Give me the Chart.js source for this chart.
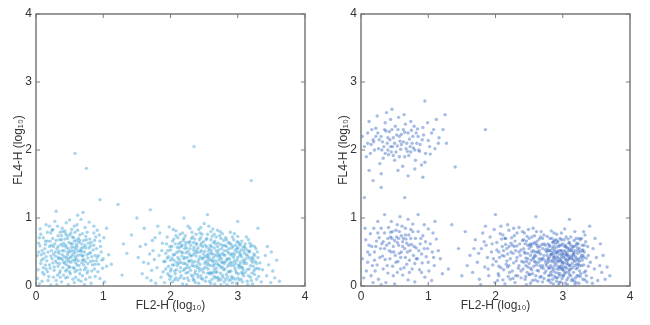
<!DOCTYPE html>
<html>
<head>
<meta charset="utf-8">
<script src="https://cdn.jsdelivr.net/npm/chart.js@4"></script>
<style>
  body { margin: 0; background: #fff; }
  .panel { position: absolute; top: 0; width: 325px; height: 325px; }
</style>
</head>
<body>
<div class="panel" style="left:0"><canvas id="leftChart" width="325" height="325"></canvas></div>
<div class="panel" style="left:325px"><canvas id="rightChart" width="325" height="325"></canvas></div>
<script>
const axisTicks = [0, 1, 2, 3, 4];
const xTitle = 'FL2-H (log₁₀)';
const yTitle = 'FL4-H (log₁₀)';

// left panel: [FL2, FL4] in log10 units
const leftNegative = [
  [0.05,0.03],[0.18,0.08],[0.31,0.02],[0.44,0.12],[0.57,0.05],[0.69,0.15],[0.82,0.04],[0.95,0.11],[0.12,0.17],[0.26,0.13],[0.38,0.06],[0.51,0.18],[0.63,0.09],[0.76,0.19],[0.88,0.14],[0.02,0.11],[0.22,0.01],[0.48,0.02],[0.72,0.02],[0.35,0.19],[0.59,0.13],[0.09,0.07],[1.02,0.06],[0.41,0.16],[0.67,0.07],
  [0.03,0.24],[0.14,0.31],[0.21,0.26],[0.29,0.37],[0.36,0.22],[0.43,0.33],[0.49,0.28],[0.55,0.38],[0.61,0.23],[0.68,0.34],[0.74,0.27],[0.81,0.36],[0.87,0.25],[0.93,0.32],[1.05,0.29],[0.08,0.38],[0.17,0.21],[0.25,0.34],[0.33,0.29],[0.39,0.39],[0.46,0.24],[0.52,0.35],[0.58,0.21],[0.64,0.3],[0.71,0.39],[0.77,0.22],[0.84,0.31],[0.98,0.38],[0.11,0.27],[0.45,0.37],[0.57,0.26],[0.66,0.24],[0.35,0.33],[0.5,0.21],[0.27,0.23],
  [0.02,0.45],[0.09,0.52],[0.15,0.43],[0.2,0.58],[0.26,0.47],[0.31,0.55],[0.37,0.41],[0.42,0.52],[0.47,0.46],[0.53,0.57],[0.58,0.43],[0.63,0.51],[0.69,0.44],[0.74,0.56],[0.79,0.48],[0.85,0.53],[0.91,0.42],[0.97,0.5],[1.08,0.46],[0.06,0.59],[0.12,0.48],[0.23,0.52],[0.34,0.48],[0.4,0.59],[0.45,0.42],[0.5,0.5],[0.55,0.47],[0.61,0.58],[0.66,0.46],[0.72,0.5],[0.81,0.59],[0.88,0.45],[0.29,0.44],[0.18,0.5],[0.39,0.46],[0.6,0.54],[0.48,0.55],[0.77,0.41],[0.33,0.58],[0.56,0.52],
  [0.04,0.63],[0.11,0.71],[0.17,0.66],[0.22,0.78],[0.28,0.62],[0.33,0.74],[0.38,0.68],[0.44,0.77],[0.49,0.64],[0.54,0.72],[0.6,0.61],[0.65,0.75],[0.71,0.67],[0.76,0.79],[0.82,0.64],[0.89,0.72],[0.95,0.66],[0.07,0.76],[0.25,0.7],[0.36,0.79],[0.41,0.63],[0.47,0.7],[0.52,0.78],[0.57,0.66],[0.63,0.7],[0.68,0.62],[0.74,0.73],[0.8,0.69],[1.01,0.71],[0.14,0.61],[0.3,0.67],[0.46,0.74],[0.58,0.79],[0.69,0.77],[0.86,0.78],
  [0.06,0.84],[0.15,0.9],[0.24,0.82],[0.32,0.88],[0.39,0.85],[0.45,0.93],[0.53,0.83],[0.61,0.9],[0.67,0.98],[0.73,0.86],[0.79,0.94],[0.86,0.88],[0.62,1.04],[0.5,0.97],[0.28,0.95],[0.91,0.82],[0.43,0.81],[0.7,1.08],[0.2,0.88],[0.57,0.88],
  [0.07,0.33],[0.13,0.55],[0.19,0.14],[0.24,0.4],[0.3,0.08],[0.34,0.51],[0.4,0.27],[0.43,0.69],[0.47,0.13],[0.51,0.42],[0.54,0.62],[0.59,0.34],[0.62,0.45],[0.65,0.18],[0.7,0.57],[0.73,0.36],[0.78,0.63],[0.83,0.43],[0.87,0.67],[0.92,0.21],[0.96,0.58],[1.0,0.4],[0.04,0.5],[0.1,0.2],[0.16,0.37],[0.21,0.66],[0.27,0.28],[0.32,0.16],[0.37,0.61],[0.42,0.43],[0.46,0.31],[0.5,0.75],[0.55,0.27],[0.58,0.49],[0.63,0.37],[0.67,0.55],[0.72,0.24],[0.76,0.46],[0.8,0.13],[0.85,0.37],[0.9,0.55],[0.94,0.75],
  [0.05,0.71],[0.11,0.4],[0.17,0.79],[0.22,0.44],[0.26,0.58],[0.31,0.34],[0.35,0.68],[0.39,0.52],[0.44,0.22],[0.48,0.4],[0.52,0.52],[0.56,0.71],[0.6,0.4],[0.64,0.64],[0.68,0.51],[0.71,0.31],[0.75,0.68],[0.79,0.56],[0.83,0.22],[0.88,0.32],[0.93,0.45],[0.99,0.26],[0.08,0.46],[0.14,0.66],[0.2,0.31],[0.25,0.83],[0.29,0.5],[0.33,0.42],[0.38,0.74],[0.41,0.35],[0.45,0.57],[0.49,0.36],[0.53,0.44],[0.57,0.57],[0.61,0.31],[0.65,0.67],[0.69,0.38],[0.73,0.6],[0.77,0.33],[0.81,0.49],[0.86,0.6],[0.9,0.37],
  [0.15,0.25],[0.36,0.13],[0.55,0.1],[0.74,0.1],[0.62,0.82],[0.4,0.8],[0.23,0.6],[0.52,0.62],[0.47,0.5],[0.58,0.38],[0.66,0.52],[0.34,0.4],[0.44,0.6],[0.7,0.45],[0.6,0.67],[0.5,0.28]
];

const leftPositive = [
  [1.52,0.42],[1.58,0.18],[1.63,0.61],[1.67,0.33],[1.71,0.08],[1.74,0.52],[1.77,0.71],[1.8,0.27],[1.83,0.45],[1.86,0.13],[1.88,0.63],[1.9,0.36],[1.61,0.85],[1.69,0.47],[1.78,0.04],[1.84,0.78],[1.55,0.58],[1.72,0.23],[1.87,0.52],[1.65,0.12],[1.81,0.88],[1.76,0.39],[1.89,0.21],[1.6,0.35],[1.73,0.67],
  [1.91,0.05],[1.93,0.48],[1.95,0.72],[1.97,0.29],[1.99,0.58],[2.01,0.14],[2.02,0.41],[2.04,0.83],[2.06,0.22],[2.07,0.62],[2.09,0.35],[2.11,0.09],[2.12,0.51],[2.14,0.76],[2.15,0.27],[2.17,0.44],[2.18,0.03],[2.19,0.67],[1.92,0.36],[1.96,0.18],[1.98,0.87],[2.0,0.53],[2.03,0.31],[2.05,0.69],[2.08,0.12],[2.1,0.57],[2.13,0.39],[2.16,0.15],[2.19,0.33],[1.94,0.62],[2.01,0.25],[2.06,0.46],[2.11,0.71],[2.16,0.58],[2.03,0.06],[2.08,0.81],[2.14,0.21],[1.97,0.43],[2.12,0.33],[2.18,0.49],[2.05,0.38],[1.99,0.1],[2.09,0.24],[2.15,0.64],[2.2,0.11],
  [2.21,0.42],[2.22,0.74],[2.23,0.19],[2.24,0.56],[2.25,0.31],[2.26,0.88],[2.27,0.08],[2.28,0.47],[2.29,0.65],[2.3,0.23],[2.31,0.38],[2.32,0.79],[2.33,0.14],[2.34,0.53],[2.35,0.29],[2.36,0.69],[2.37,0.05],[2.38,0.44],[2.39,0.61],[2.4,0.17],[2.41,0.35],[2.42,0.83],[2.43,0.26],[2.44,0.5],[2.45,0.71],[2.46,0.11],[2.47,0.4],[2.48,0.58],[2.49,0.2],[2.5,0.92],[2.22,0.33],[2.24,0.02],[2.26,0.51],[2.28,0.27],[2.3,0.6],[2.32,0.45],[2.34,0.1],[2.36,0.36],[2.38,0.76],[2.4,0.49],[2.42,0.04],[2.44,0.32],[2.46,0.63],[2.48,0.41],[2.23,0.64],[2.27,0.37],[2.31,0.16],[2.35,0.57],[2.39,0.3],[2.43,0.68],[2.47,0.24],[2.25,0.12],[2.29,0.85],[2.33,0.34],[2.37,0.22],[2.41,0.56],[2.45,0.15],[2.49,0.47],[2.21,0.25],[2.44,0.78],
  [2.51,0.33],[2.52,0.6],[2.53,0.13],[2.54,0.45],[2.55,0.76],[2.56,0.25],[2.57,0.52],[2.58,0.07],[2.59,0.39],[2.6,0.68],[2.61,0.18],[2.62,0.47],[2.63,0.84],[2.64,0.29],[2.65,0.56],[2.66,0.03],[2.67,0.37],[2.68,0.72],[2.69,0.21],[2.7,0.49],[2.71,0.63],[2.72,0.11],[2.73,0.42],[2.74,0.8],[2.75,0.27],[2.76,0.55],[2.77,0.16],[2.78,0.35],[2.79,0.67],[2.8,0.06],[2.51,0.51],[2.53,0.28],[2.55,0.41],[2.57,0.88],[2.59,0.2],[2.61,0.58],[2.63,0.36],[2.65,0.14],[2.67,0.62],[2.69,0.44],[2.71,0.31],[2.73,0.74],[2.75,0.09],[2.77,0.48],[2.79,0.24],[2.52,0.07],[2.54,0.7],[2.56,0.37],[2.58,0.55],[2.6,0.3],[2.62,0.1],[2.64,0.64],[2.66,0.46],[2.68,0.26],[2.7,0.82],[2.72,0.53],[2.74,0.19],[2.76,0.4],[2.78,0.59],[2.8,0.33],[2.55,0.19],[2.6,0.48],[2.65,0.32],[2.7,0.13],[2.75,0.61],[2.57,0.43],[2.62,0.73],[2.67,0.2],[2.72,0.38],[2.77,0.77],
  [2.81,0.45],[2.82,0.71],[2.83,0.17],[2.84,0.52],[2.85,0.29],[2.86,0.64],[2.87,0.08],[2.88,0.4],[2.89,0.79],[2.9,0.22],[2.91,0.56],[2.92,0.34],[2.93,0.12],[2.94,0.68],[2.95,0.46],[2.96,0.26],[2.97,0.6],[2.98,0.04],[2.99,0.38],[3.0,0.73],[3.01,0.18],[3.02,0.5],[3.03,0.31],[3.04,0.62],[3.05,0.1],[3.06,0.43],[3.07,0.27],[3.08,0.57],[3.09,0.15],[3.1,0.36],[2.82,0.36],[2.84,0.02],[2.86,0.49],[2.88,0.21],[2.9,0.61],[2.92,0.05],[2.94,0.3],[2.96,0.53],[2.98,0.19],[3.0,0.42],[3.02,0.09],[3.04,0.35],[3.06,0.66],[3.08,0.24],[3.1,0.48],[2.83,0.58],[2.87,0.32],[2.91,0.14],[2.95,0.77],[2.99,0.55],[3.03,0.45],[3.07,0.06],[2.85,0.13],[2.89,0.47],[2.93,0.58],[2.97,0.33],[3.01,0.64],[3.05,0.28],[3.09,0.52],[2.81,0.25],
  [3.11,0.2],[3.12,0.55],[3.13,0.33],[3.14,0.07],[3.15,0.44],[3.16,0.68],[3.17,0.25],[3.18,0.51],[3.19,0.13],[3.2,0.38],[3.21,0.6],[3.22,0.03],[3.23,0.29],[3.24,0.47],[3.25,0.17],[3.26,0.36],[3.27,0.55],[3.28,0.1],[3.29,0.26],[3.3,0.42],[3.13,0.72],[3.17,0.41],[3.21,0.19],[3.25,0.58],[3.31,0.14],[3.33,0.34],[3.35,0.06],[3.37,0.24],[3.15,0.02],[3.19,0.3],
  [3.41,0.45],[3.43,0.15],[3.46,0.31],[3.49,0.05],[3.52,0.22],[3.55,0.12],[3.58,0.38],[3.44,0.58],[3.62,0.07],[3.5,0.5],
  [1.93,0.25],[1.96,0.52],[2.0,0.38],[2.03,0.66],[2.06,0.09],[2.09,0.49],[2.12,0.62],[2.15,0.35],[2.18,0.78],[2.21,0.55],[2.24,0.27],[2.27,0.64],[2.3,0.44],[2.33,0.72],[2.36,0.18],[2.39,0.53],[2.42,0.39],[2.45,0.6],[2.48,0.1],[2.51,0.43],[2.54,0.57],[2.57,0.31],[2.6,0.8],[2.63,0.2],[2.66,0.66],[2.69,0.33],[2.72,0.46],[2.75,0.7],[2.78,0.13],[2.81,0.6],[2.84,0.39],[2.87,0.55],[2.9,0.3],[2.93,0.48],[2.96,0.1],[2.99,0.65],[3.02,0.27],[3.05,0.53],[3.08,0.38],[3.11,0.62],[3.14,0.24],[3.17,0.5],[3.2,0.08],[3.23,0.4],[3.26,0.25],[3.29,0.5],
  [1.95,0.41],[1.98,0.15],[2.02,0.58],[2.05,0.31],[2.08,0.74],[2.11,0.42],[2.14,0.12],[2.17,0.6],[2.2,0.4],[2.23,0.49],[2.26,0.2],[2.29,0.55],[2.32,0.3],[2.35,0.47],[2.38,0.63],[2.41,0.13],[2.44,0.43],[2.47,0.76],[2.5,0.26],[2.53,0.68],[2.56,0.47],[2.59,0.6],[2.62,0.38],[2.65,0.24],[2.68,0.52],[2.71,0.08],[2.74,0.45],[2.77,0.28],[2.8,0.52],[2.83,0.68],[2.86,0.21],[2.89,0.35],[2.92,0.72],[2.95,0.37],[2.98,0.5],[3.01,0.3],[3.04,0.47],[3.07,0.18],[3.1,0.58],[3.13,0.46],[3.16,0.15],[3.19,0.58],[3.22,0.35],[3.25,0.45],[3.28,0.33],[3.32,0.25],
  [2.0,0.22],[2.04,0.46],[2.1,0.3],[2.16,0.5],[2.22,0.6],[2.28,0.36],[2.34,0.64],[2.4,0.27],[2.46,0.52],[2.52,0.36],[2.58,0.18],[2.64,0.42],[2.7,0.58],[2.76,0.35],[2.82,0.1],[2.88,0.63],[2.94,0.42],[3.0,0.56],[3.06,0.2],[3.12,0.4],[3.18,0.63],[3.24,0.22],[2.07,0.18],[2.13,0.56],[2.19,0.23],[2.25,0.42],[2.31,0.7],[2.37,0.5],[2.43,0.22],[2.49,0.65],[2.55,0.33],[2.61,0.52],[2.67,0.12],[2.73,0.3],[2.79,0.46],[2.85,0.4],[2.91,0.45],[2.97,0.22],[3.03,0.6],[3.09,0.33],[3.15,0.52],[3.21,0.42],[2.35,0.08],[2.65,0.76],[2.9,0.1],[2.45,0.86],[2.2,0.7],[3.0,0.12],[2.6,0.04],[2.75,0.02]
];

const leftScattered = [
  [0.58,1.95],[0.75,1.73],[1.22,1.2],[0.95,1.27],[1.7,1.12],[2.55,1.05],[3.0,0.95],[1.35,0.48],[1.28,0.16],[1.42,0.75],[1.12,0.32],[1.5,1.0],[2.2,1.0],[3.3,0.85],[0.3,1.1],[3.2,1.55],[2.35,2.05],[1.05,0.85],[1.3,0.62]
];

// right panel
const rightUpper = [
  [0.05,2.05],[0.1,2.25],[0.14,1.95],[0.18,2.15],[0.22,2.32],[0.26,2.02],[0.3,2.2],[0.33,1.88],[0.36,2.4],[0.39,2.1],[0.42,2.27],[0.45,1.97],[0.48,2.18],[0.51,2.35],[0.54,2.06],[0.57,1.9],[0.6,2.23],[0.63,2.12],[0.66,2.38],[0.69,1.98],[0.72,2.16],[0.75,2.29],[0.78,2.03],[0.81,1.85],[0.85,2.2],[0.88,2.08],[0.92,2.33],[0.96,1.95],[1.0,2.14],[1.05,2.25],[1.1,2.02],[1.16,2.18],[1.22,2.3],[1.27,2.1],[0.08,1.9],[0.12,2.42],[0.2,2.0],[0.25,2.25],[0.28,1.8],[0.32,2.12],[0.37,2.28],[0.41,1.93],[0.44,2.45],[0.47,2.05],[0.5,1.85],[0.53,2.22],[0.56,2.48],[0.59,2.01],[0.62,1.76],[0.65,2.26],[0.68,2.1],[0.71,1.92],[0.74,2.42],[0.77,2.2],[0.8,1.72],[0.84,2.31],[0.87,1.98],[0.91,2.15],[0.95,1.82],[0.99,2.4],[1.03,1.94],[1.08,2.3],[0.16,2.3],[0.34,2.05],[0.43,2.15],[0.52,1.97],[0.58,2.13],[0.67,2.02],[0.73,2.05],[0.83,2.1],[0.38,2.55],[0.46,2.6],[0.24,2.5],[0.7,1.62],[0.55,1.7],[0.3,1.65],[0.9,1.78],[1.12,2.45],[0.02,2.2],[0.64,2.52],[0.4,2.0],[0.79,2.35],[0.19,2.12],
  [0.15,2.08],[0.27,2.15],[0.35,2.3],[0.4,2.18],[0.46,2.3],[0.5,2.1],[0.55,2.3],[0.6,2.08],[0.63,2.3],[0.7,2.25],[0.76,2.1],[0.82,2.25],[0.86,2.0],[0.93,2.22],[1.02,2.05],[0.22,2.2],[0.31,2.0],[0.48,1.92],[0.65,1.9],[0.8,2.0],[0.57,2.2],[0.44,2.05],[0.36,1.95],[0.74,1.97],[1.15,2.1],[0.1,2.1]
];

const rightLowerLeft = [
  [0.04,0.12],[0.1,0.35],[0.16,0.58],[0.21,0.22],[0.27,0.71],[0.32,0.44],[0.37,0.05],[0.42,0.63],[0.47,0.29],[0.52,0.82],[0.57,0.48],[0.62,0.16],[0.67,0.69],[0.72,0.38],[0.77,0.91],[0.82,0.56],[0.87,0.24],[0.92,0.74],[0.97,0.43],[1.03,0.62],[1.09,0.3],[1.15,0.52],[1.21,0.18],[0.07,0.68],[0.13,0.46],[0.19,0.85],[0.24,0.31],[0.29,0.55],[0.35,0.78],[0.4,0.19],[0.45,0.5],[0.5,0.67],[0.55,0.36],[0.6,0.74],[0.65,0.55],[0.7,0.09],[0.75,0.61],[0.8,0.33],[0.85,0.8],[0.9,0.47],[0.95,0.13],[1.0,0.84],[1.06,0.5],[1.12,0.69],[0.02,0.4],[0.08,0.22],[0.14,0.77],[0.2,0.5],[0.26,0.1],[0.31,0.62],[0.36,0.39],[0.41,0.86],[0.46,0.7],[0.51,0.45],[0.56,0.6],[0.61,0.88],[0.66,0.42],[0.71,0.75],[0.76,0.25],[0.81,0.7],[0.86,0.52],[0.91,0.34],[0.96,0.65],[1.01,0.22],[1.07,0.78],[1.18,0.4],[0.45,0.95],[0.58,1.02],[0.7,0.98],[0.35,1.05],[0.85,1.05],[0.25,0.95],[0.62,0.58],[0.53,0.72],[0.48,0.58],[0.68,0.63],[0.73,0.52],[0.57,0.8],[0.44,0.79],[0.38,0.6],[0.33,0.25],[0.78,0.45],[0.88,0.62],[0.64,0.27],[0.54,0.2],[0.18,0.05],[0.5,0.03],[0.8,0.06],[1.05,0.08],[0.3,0.02],[0.12,0.6],[0.99,0.55],[0.74,0.83],[0.59,0.42],[0.43,0.4],[0.66,0.85],[0.94,0.9],[0.23,0.66],[0.06,0.85],[1.1,0.95],
  [0.1,0.5],[0.17,0.3],[0.22,0.58],[0.28,0.42],[0.33,0.65],[0.39,0.3],[0.44,0.72],[0.49,0.5],[0.54,0.64],[0.59,0.25],[0.63,0.7],[0.69,0.5],[0.74,0.7],[0.79,0.58],[0.84,0.4],[0.89,0.7],[0.94,0.55],[1.0,0.35],[0.15,0.15],[0.25,0.78],[0.42,0.52],[0.47,0.8],[0.52,0.35],[0.56,0.7],[0.6,0.5],[0.66,0.75],[0.71,0.6],[0.77,0.8],[0.82,0.4],[0.35,0.55],[0.4,0.7],[0.62,0.65],[0.54,0.9],[0.68,0.32],[0.9,0.2],[0.2,0.38],[0.3,0.85],[0.48,0.15],[0.72,0.2],[1.08,0.42]
];

const rightLowerRight = [
  [1.62,0.45],[1.66,0.2],[1.7,0.68],[1.73,0.35],[1.76,0.1],[1.79,0.55],[1.81,0.78],[1.84,0.28],[1.86,0.6],[1.88,0.42],[1.9,0.15],[1.92,0.72],[1.94,0.5],[1.96,0.31],[1.98,0.83],[1.99,0.05],[1.75,0.48],[1.83,0.65],[1.89,0.25],[1.95,0.62],[1.68,0.55],[1.85,0.88],[1.97,0.4],[1.78,0.02],[1.58,0.3],
  [2.01,0.36],[2.02,0.64],[2.04,0.18],[2.05,0.5],[2.07,0.77],[2.08,0.27],[2.1,0.58],[2.11,0.09],[2.13,0.44],[2.14,0.7],[2.16,0.32],[2.17,0.55],[2.19,0.14],[2.2,0.82],[2.22,0.4],[2.23,0.63],[2.25,0.22],[2.26,0.48],[2.28,0.74],[2.29,0.05],[2.31,0.37],[2.32,0.59],[2.34,0.26],[2.35,0.86],[2.37,0.45],[2.38,0.12],[2.4,0.67],[2.03,0.08],[2.06,0.42],[2.09,0.69],[2.12,0.24],[2.15,0.61],[2.18,0.47],[2.21,0.2],[2.24,0.71],[2.27,0.34],[2.3,0.52],[2.33,0.15],[2.36,0.62],[2.39,0.36],[2.02,0.53],[2.08,0.88],[2.14,0.03],[2.2,0.58],[2.26,0.11],[2.32,0.78],[2.38,0.53],[2.05,0.29],[2.11,0.75],[2.17,0.37],[2.23,0.5],[2.29,0.66],[2.35,0.3],[2.18,0.9],[2.27,0.85],
  [2.41,0.25],[2.42,0.55],[2.43,0.78],[2.44,0.1],[2.45,0.41],[2.46,0.66],[2.47,0.2],[2.48,0.48],[2.49,0.83],[2.5,0.33],[2.51,0.6],[2.52,0.04],[2.53,0.38],[2.54,0.72],[2.55,0.18],[2.56,0.52],[2.57,0.29],[2.58,0.64],[2.59,0.09],[2.6,0.44],[2.61,0.8],[2.62,0.23],[2.63,0.57],[2.64,0.35],[2.65,0.69],[2.66,0.13],[2.67,0.47],[2.68,0.27],[2.69,0.61],[2.7,0.06],[2.71,0.4],[2.72,0.75],[2.73,0.19],[2.74,0.53],[2.42,0.35],[2.44,0.62],[2.46,0.02],[2.48,0.28],[2.5,0.7],[2.52,0.45],[2.54,0.24],[2.56,0.85],[2.58,0.36],[2.6,0.15],[2.62,0.66],[2.64,0.49],[2.66,0.3],[2.68,0.8],[2.7,0.55],[2.72,0.11],[2.74,0.37],[2.43,0.5],[2.47,0.73],[2.51,0.17],[2.55,0.62],[2.59,0.5],[2.63,0.07],[2.67,0.72],[2.71,0.26],[2.45,0.14],[2.53,0.58],[2.57,0.42],[2.61,0.31],[2.65,0.52],[2.69,0.4],
  [2.75,0.22],[2.76,0.5],[2.77,0.73],[2.78,0.08],[2.79,0.38],[2.8,0.6],[2.81,0.16],[2.82,0.46],[2.83,0.81],[2.84,0.27],[2.85,0.55],[2.86,0.03],[2.87,0.35],[2.88,0.67],[2.89,0.2],[2.9,0.48],[2.91,0.76],[2.92,0.12],[2.93,0.41],[2.94,0.58],[2.95,0.25],[2.96,0.7],[2.97,0.06],[2.98,0.44],[2.99,0.32],[3.0,0.62],[3.01,0.15],[3.02,0.52],[3.03,0.84],[3.04,0.28],[3.05,0.47],[3.06,0.09],[3.07,0.37],[3.08,0.69],[3.09,0.21],[3.1,0.55],[2.76,0.3],[2.78,0.62],[2.8,0.42],[2.82,0.05],[2.84,0.7],[2.86,0.5],[2.88,0.14],[2.9,0.33],[2.92,0.64],[2.94,0.02],[2.96,0.38],[2.98,0.78],[3.0,0.24],[3.02,0.34],[3.04,0.6],[3.06,0.45],[3.08,0.12],[3.1,0.3],[2.77,0.45],[2.81,0.58],[2.85,0.22],[2.89,0.62],[2.93,0.29],[2.97,0.52],[3.01,0.42],[3.05,0.72],[3.09,0.4],[2.79,0.15],[2.83,0.36],[2.87,0.78],[2.91,0.07],[2.95,0.47],[2.99,0.11],[3.03,0.18],[3.07,0.56],[2.8,0.26],[2.84,0.48],[2.88,0.42],[2.92,0.5],[2.96,0.18],[3.0,0.48],[3.04,0.04],[3.08,0.32],[2.78,0.52],[2.86,0.65],[2.94,0.36],[3.02,0.68],[3.1,0.17],[2.82,0.3],[2.9,0.57],[2.98,0.6],[3.06,0.26],[2.85,0.1],[2.97,0.28],
  [3.11,0.44],[3.12,0.72],[3.13,0.08],[3.14,0.33],[3.15,0.58],[3.16,0.2],[3.17,0.48],[3.18,0.8],[3.19,0.12],[3.2,0.4],[3.21,0.63],[3.22,0.27],[3.23,0.52],[3.24,0.04],[3.25,0.36],[3.26,0.68],[3.27,0.18],[3.28,0.45],[3.29,0.6],[3.3,0.1],[3.31,0.31],[3.32,0.5],[3.33,0.75],[3.34,0.22],[3.35,0.41],[3.36,0.06],[3.37,0.58],[3.38,0.29],[3.12,0.25],[3.14,0.55],[3.16,0.38],[3.18,0.02],[3.2,0.6],[3.22,0.48],[3.24,0.7],[3.26,0.14],[3.28,0.3],[3.3,0.53],[3.32,0.2],[3.34,0.65],[3.13,0.42],[3.17,0.67],[3.21,0.15],[3.25,0.55],[3.29,0.38],[3.33,0.09],[3.15,0.1],[3.23,0.32],[3.31,0.8],[3.19,0.52],
  [3.41,0.35],[3.43,0.12],[3.45,0.55],[3.47,0.25],[3.5,0.42],[3.52,0.08],[3.55,0.3],[3.58,0.2],[3.6,0.45],[3.63,0.1],[3.66,0.28],[3.7,0.15],[3.48,0.7],[3.44,0.04],[3.56,0.62],
  [2.05,0.15],[2.1,0.45],[2.15,0.7],[2.2,0.3],[2.25,0.6],[2.3,0.15],[2.35,0.5],[2.4,0.8],[2.45,0.3],[2.5,0.55],[2.55,0.08],[2.6,0.62],[2.65,0.4],[2.7,0.7],[2.75,0.33],[2.8,0.52],[2.85,0.38],[2.9,0.68],[2.95,0.15],[3.0,0.35],[3.05,0.57],[3.1,0.24],[3.15,0.46],[3.2,0.7],[3.25,0.3],[3.3,0.45],[3.35,0.15],
  [2.12,0.52],[2.22,0.1],[2.32,0.42],[2.42,0.68],[2.52,0.26],[2.62,0.5],[2.72,0.62],[2.82,0.2],[2.92,0.37],[3.02,0.45],[3.12,0.6],[3.22,0.38],[3.32,0.6],[2.18,0.28],[2.28,0.58],[2.38,0.22],[2.48,0.6],[2.58,0.45],[2.68,0.14],[2.78,0.4],[2.88,0.53],[2.98,0.68],[3.08,0.44],[3.18,0.3],[3.28,0.7],[3.38,0.45],
  [2.77,0.55],[2.79,0.27],[2.81,0.7],[2.83,0.46],[2.85,0.64],[2.87,0.25],[2.89,0.39],[2.91,0.5],[2.93,0.19],[2.95,0.6],[2.97,0.4],[2.99,0.47],[3.01,0.28],[3.03,0.58],[3.05,0.38],[3.07,0.47],[3.09,0.63],[3.11,0.3],[3.13,0.52],[3.15,0.27],[3.17,0.58],[3.19,0.43],[3.21,0.32],[3.23,0.62],[3.25,0.22],[3.27,0.42],[3.29,0.52],[3.31,0.42],
  [2.78,0.35],[2.8,0.09],[2.82,0.52],[2.84,0.16],[2.86,0.42],[2.88,0.3],[2.9,0.12],[2.92,0.43],[2.94,0.52],[2.96,0.28],[2.98,0.36],[3.0,0.15],[3.02,0.22],[3.04,0.5],[3.06,0.33],[3.08,0.52],[3.1,0.4],[3.12,0.15],[3.14,0.4],[3.16,0.5],[3.18,0.36],[3.2,0.25],[3.22,0.56],[3.24,0.4],[3.26,0.5],[2.87,0.45],[2.93,0.66],[2.99,0.25],[3.05,0.2],[3.11,0.52],[3.17,0.07],[3.23,0.15],[2.95,0.05],[3.07,0.02],[3.2,0.05],[2.86,0.58],[2.92,0.25],[2.98,0.52],[3.04,0.4],[3.1,0.64],[3.16,0.45],
  [2.44,0.48],[2.5,0.17],[2.56,0.4],[2.62,0.6],[2.68,0.38],[2.74,0.6],[2.46,0.36],[2.54,0.5],[2.6,0.35],[2.66,0.58],[2.72,0.45],[2.58,0.74],[2.64,0.22],[2.7,0.3],[2.52,0.62],[2.48,0.4]
];

const rightScattered = [
  [0.95,2.72],[1.85,2.3],[0.3,1.45],[0.18,1.55],[0.65,1.3],[1.35,0.9],[1.45,0.55],[1.3,0.25],[1.5,0.15],[1.55,0.8],[2.6,1.02],[3.1,0.98],[1.25,2.52],[0.12,1.7],[0.92,1.6],[1.4,1.75],[2.0,1.05],[3.4,0.88],[0.05,1.3]
];

const toXY = pts => pts.map(p => ({ x: p[0], y: p[1] }));

// MATLAB-like box with inward ticks on all four sides
const boxPlugin = {
  id: 'boxPlugin',
  afterDraw(chart) {
    const { ctx, chartArea: a, scales } = chart;
    ctx.save();
    ctx.strokeStyle = '#7a7a7a';
    ctx.lineWidth = 1.5;
    ctx.strokeRect(a.left, a.top, a.right - a.left, a.bottom - a.top);
    ctx.lineWidth = 1;
    ctx.beginPath();
    axisTicks.forEach(v => {
      const px = scales.x.getPixelForValue(v);
      const py = scales.y.getPixelForValue(v);
      ctx.moveTo(px, a.bottom); ctx.lineTo(px, a.bottom - 4);
      ctx.moveTo(px, a.top); ctx.lineTo(px, a.top + 4);
      ctx.moveTo(a.left, py); ctx.lineTo(a.left + 4, py);
      ctx.moveTo(a.right, py); ctx.lineTo(a.right - 4, py);
    });
    ctx.stroke();
    ctx.restore();
  }
};

const labelFont = { family: 'Liberation Sans', size: 12 };

function makeScatter(canvasId, groups, color) {
  const ctx = document.getElementById(canvasId).getContext('2d');
  return new Chart(ctx, {
    type: 'scatter',
    data: {
      datasets: groups.map(g => ({
        data: toXY(g),
        backgroundColor: color,
        borderWidth: 0,
        pointRadius: 1.7,
        pointHoverRadius: 1.7
      }))
    },
    options: {
      responsive: false,
      animation: false,
      devicePixelRatio: 1,
      layout: { padding: { left: 0, right: 20, top: 14, bottom: 0 } },
      plugins: { legend: { display: false }, tooltip: { enabled: false } },
      scales: {
        x: {
          type: 'linear', min: 0, max: 4,
          grid: { display: false, drawTicks: false }, border: { display: false },
          afterBuildTicks: s => { s.ticks = axisTicks.map(v => ({ value: v })); },
          afterFit: s => { s.height = 39; },
          ticks: { padding: 3, color: '#333', font: labelFont },
          title: { display: true, text: xTitle, color: '#333', font: labelFont, padding: { top: 0, bottom: 12 } }
        },
        y: {
          type: 'linear', min: 0, max: 4,
          grid: { display: false, drawTicks: false }, border: { display: false },
          afterBuildTicks: s => { s.ticks = axisTicks.map(v => ({ value: v })); },
          afterFit: s => { s.width = 36; },
          ticks: { padding: 4, color: '#333', font: labelFont },
          title: { display: true, text: yTitle, color: '#333', font: labelFont, padding: { top: 11, bottom: 0 } }
        }
      }
    },
    plugins: [boxPlugin]
  });
}

makeScatter('leftChart', [leftNegative, leftPositive, leftScattered], 'rgba(45,155,210,0.42)');
makeScatter('rightChart', [rightUpper, rightLowerLeft, rightLowerRight, rightScattered], 'rgba(45,95,190,0.42)');
</script>
</body>
</html>
